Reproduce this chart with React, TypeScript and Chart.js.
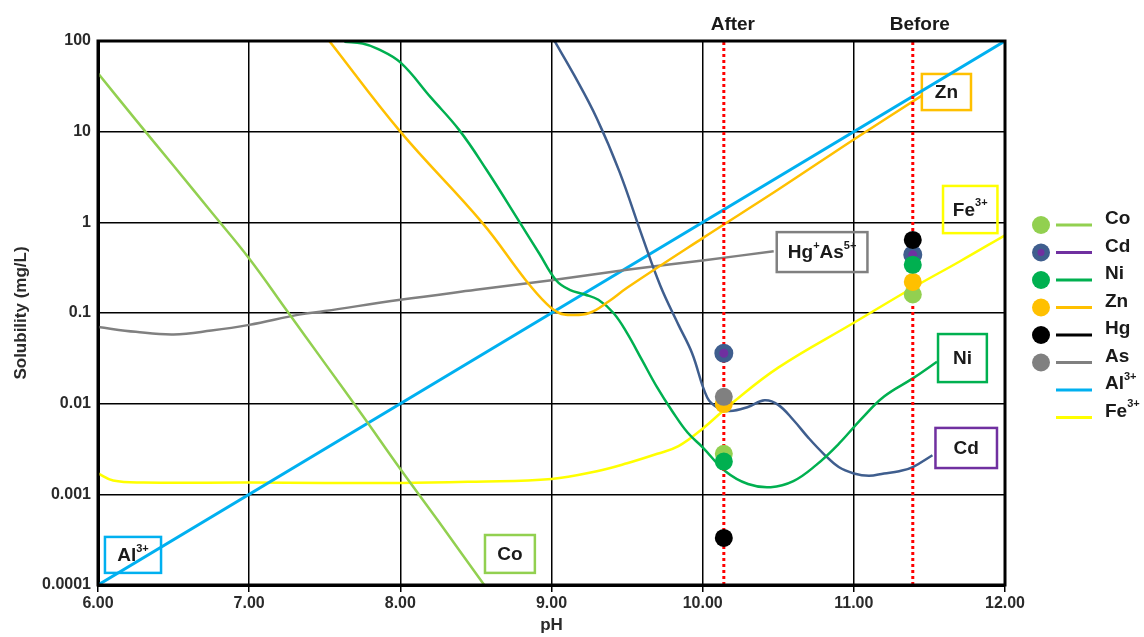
import React, { useEffect, useRef } from 'react';
import { Chart, registerables } from 'chart.js';

Chart.register(...registerables);

const FONT = '"Liberation Sans", Arial, sans-serif';

// Solubility curves (pH vs mg/L)
const coPH = [6.0, 6.25, 6.5, 6.75, 7.0, 7.25, 7.5, 7.75, 8.0, 8.25, 8.555];
const coSol = [44, 13.5, 4.2, 1.3, 0.4, 0.106, 0.028, 0.0074, 0.0019, 0.00051, 0.0001];

const znPH = [7.53, 8.0, 8.54, 8.83, 8.97, 9.05, 9.13, 9.25, 9.38, 9.5, 10.0, 10.5, 11.0, 11.45];
const znSol = [100, 10, 1.0, 0.23, 0.125, 0.1, 0.095, 0.1, 0.135, 0.19, 0.67, 2.3, 8.2, 25];

const niPH = [7.63, 7.75, 7.85, 8.0, 8.2, 8.39, 8.57, 8.79, 8.92, 9.03, 9.12, 9.22, 9.31, 9.41, 9.5, 9.6, 9.7,
  9.8, 9.9, 10.0, 10.15, 10.3, 10.45, 10.6, 10.75, 10.9, 11.05, 11.2, 11.39, 11.55];
const niSol = [98, 94, 82, 58, 24, 10.4, 3.8, 1.0, 0.45, 0.23, 0.18, 0.16, 0.14, 0.1, 0.06, 0.03, 0.015,
  0.0082, 0.0048, 0.0033, 0.0018, 0.0013, 0.0012, 0.0014, 0.0021, 0.0036, 0.0068, 0.012, 0.019, 0.029];

const cdPH = [9.02, 9.15, 9.3, 9.45, 9.6, 9.72, 9.84, 9.93, 10.03, 10.1, 10.18, 10.3, 10.41, 10.5, 10.6, 10.7,
  10.8, 10.9, 11.0, 11.1, 11.2, 11.3, 11.39, 11.52];
const cdSol = [100, 42, 14, 3.6, 0.7, 0.2, 0.074, 0.036, 0.0117, 0.009, 0.0083, 0.0092, 0.0109, 0.0097, 0.0066,
  0.0042, 0.0028, 0.002, 0.0017, 0.0016, 0.0017, 0.0018, 0.002, 0.0027];

const asPH = [6.0, 6.25, 6.5, 6.75, 7.0, 7.33, 7.5, 8.0, 8.5, 9.0, 9.5, 10.0, 10.47];
const asSol = [0.07, 0.062, 0.058, 0.064, 0.074, 0.096, 0.105, 0.14, 0.18, 0.23, 0.3, 0.38, 0.48];

const alPH = [6.0, 12.0];
const alSol = [0.0001, 100];

const fePH = [6.0, 6.1, 6.3, 7.0, 8.0, 8.5, 9.0, 9.3, 9.5, 9.7, 9.84, 10.0, 10.19, 10.5, 11.0, 11.39, 11.7, 12.0];
const feSol = [0.0017, 0.00142, 0.00135, 0.00135, 0.00133, 0.00138, 0.00148, 0.0018, 0.0022, 0.0028, 0.0034,
  0.0053, 0.01, 0.025, 0.078, 0.19, 0.37, 0.72];

// Measured solubilities at the two sampling pH values
const AFTER_PH = 10.14;
const BEFORE_PH = 11.39;
const metals = ['Co', 'Cd', 'Ni', 'Zn', 'Hg', 'As'];
const afterSol = [0.0028, 0.036, 0.0023, 0.0099, 0.00033, 0.0119];
const beforeSol = [0.16, 0.44, 0.34, 0.22, 0.64, 0.44];

// Axis ticks
const xTicks = [6, 7, 8, 9, 10, 11, 12];
const yTicks = [0.0001, 0.001, 0.01, 0.1, 1, 10, 100];
const yTickLabels = ['0.0001', '0.001', '0.01', '0.1', '1', '10', '100'];

const COLOR: Record<string, string> = {
  Co: '#92D050', Cd: '#3F5E8E', Ni: '#00B050', Zn: '#FFC000', Hg: '#000000', As: '#808080',
  Al: '#00B0F0', Fe: '#FFFF00', CdCore: '#7030A0',
};

// draw order of the dots (lower value is painted on top)
const dotOrder: Record<string, number> = { Hg: 1, Ni: 2, Cd: 3, As: 4, Zn: 5, Co: 6 };

type Part = { t: string; sup?: boolean };

const LABEL_SIZE = 19;

const callouts: { parts: Part[]; color: string; x: number[]; y: number[] }[] = [
  { parts: [{ t: 'Zn' }], color: '#FFC000', x: [11.45, 11.775], y: [43.3, 17.3] },
  { parts: [{ t: 'Fe' }, { t: '3+', sup: true }], color: '#FFFF00', x: [11.59, 11.95], y: [2.52, 0.76] },
  { parts: [{ t: 'Hg' }, { t: '+', sup: true }, { t: 'As' }, { t: '5+', sup: true }], color: '#808080', x: [10.49, 11.09], y: [0.78, 0.283] },
  { parts: [{ t: 'Ni' }], color: '#00B050', x: [11.557, 11.88], y: [0.0586, 0.0173] },
  { parts: [{ t: 'Cd' }], color: '#7030A0', x: [11.54, 11.947], y: [0.0054, 0.00195] },
  { parts: [{ t: 'Al' }, { t: '3+', sup: true }], color: '#00B0F0', x: [6.046, 6.417], y: [0.000339, 0.000136] },
  { parts: [{ t: 'Co' }], color: '#92D050', x: [8.56, 8.89], y: [0.000356, 0.000136] },
];

const legendEntries: { parts: Part[]; dot?: string; core?: string; line: string }[] = [
  { parts: [{ t: 'Co' }], dot: COLOR.Co, line: COLOR.Co },
  { parts: [{ t: 'Cd' }], dot: COLOR.Cd, core: COLOR.CdCore, line: COLOR.CdCore },
  { parts: [{ t: 'Ni' }], dot: COLOR.Ni, line: COLOR.Ni },
  { parts: [{ t: 'Zn' }], dot: COLOR.Zn, line: COLOR.Zn },
  { parts: [{ t: 'Hg' }], dot: COLOR.Hg, line: COLOR.Hg },
  { parts: [{ t: 'As' }], dot: COLOR.As, line: COLOR.As },
  { parts: [{ t: 'Al' }, { t: '3+', sup: true }], line: COLOR.Al },
  { parts: [{ t: 'Fe' }, { t: '3+', sup: true }], line: COLOR.Fe },
];

const zip = (xs: number[], ys: number[]) => xs.map((x, i) => ({ x, y: ys[i] }));

function drawRich(ctx: CanvasRenderingContext2D, parts: Part[], x: number, y: number, size: number, align: 'left' | 'center') {
  const base = `bold ${size}px ${FONT}`;
  const small = `bold ${Math.round(size * 0.58)}px ${FONT}`;
  ctx.textBaseline = 'middle';
  ctx.textAlign = 'left';
  const widths = parts.map((p) => {
    ctx.font = p.sup ? small : base;
    return ctx.measureText(p.t).width;
  });
  const total = widths.reduce((a, b) => a + b, 0);
  let cx = align === 'center' ? x - total / 2 : x;
  parts.forEach((p, i) => {
    ctx.font = p.sup ? small : base;
    ctx.fillText(p.t, cx, p.sup ? y - size * 0.38 : y);
    cx += widths[i];
  });
}

const curve = (label: string, xs: number[], ys: number[], color: string, width = 2.5) => ({
  type: 'line' as const,
  label,
  data: zip(xs, ys),
  borderColor: color,
  borderWidth: width,
  pointRadius: 0,
  fill: false,
  tension: 0.4,
  order: 20,
});

const marker = (pH: number) => ({
  type: 'line' as const,
  label: '',
  data: [{ x: pH, y: 0.0001 }, { x: pH, y: 100 }],
  borderColor: '#FF0000',
  borderWidth: 3,
  borderDash: [3, 3],
  pointRadius: 0,
  tension: 0,
  order: 10,
});

const dots = metals.map((m, i) => ({
  type: 'scatter' as const,
  label: m,
  data: [{ x: AFTER_PH, y: afterSol[i] }, { x: BEFORE_PH, y: beforeSol[i] }],
  pointRadius: m === 'Cd' ? 7 : 9,
  pointBorderWidth: m === 'Cd' ? 5 : 0,
  pointBorderColor: COLOR[m],
  pointBackgroundColor: m === 'Cd' ? COLOR.CdCore : COLOR[m],
  order: dotOrder[m],
}));

const annotate = {
  id: 'annotate',
  beforeDatasetsDraw(chart: any) {
    const { ctx, scales } = chart;
    const x = scales.x, y = scales.y;
    ctx.save();
    for (const c of callouts) {
      const l = x.getPixelForValue(c.x[0]);
      const r = x.getPixelForValue(c.x[1]);
      const t = y.getPixelForValue(c.y[0]);
      const b = y.getPixelForValue(c.y[1]);
      ctx.strokeStyle = c.color;
      ctx.lineWidth = 2.5;
      ctx.strokeRect(l, t, r - l, b - t);
      ctx.fillStyle = '#1a1a1a';
      drawRich(ctx, c.parts, (l + r) / 2, (t + b) / 2 + 1, LABEL_SIZE, 'center');
    }
    ctx.restore();
  },
  afterDraw(chart: any) {
    const { ctx, chartArea: a, scales } = chart;
    const x = scales.x;
    ctx.save();
    ctx.strokeStyle = '#000';
    ctx.lineWidth = 3;
    ctx.strokeRect(a.left, a.top, a.right - a.left, a.bottom - a.top);

    ctx.fillStyle = '#1a1a1a';
    drawRich(ctx, [{ t: 'After' }], x.getPixelForValue(AFTER_PH) + 9, 25, LABEL_SIZE, 'center');
    drawRich(ctx, [{ t: 'Before' }], x.getPixelForValue(BEFORE_PH) + 7, 25, LABEL_SIZE, 'center');

    legendEntries.forEach((e, i) => {
      const ly = 225 + i * 27.5;
      const cx = a.right + 36;
      if (e.dot) {
        ctx.beginPath();
        ctx.arc(cx, ly, 9, 0, Math.PI * 2);
        ctx.fillStyle = e.dot;
        ctx.fill();
        if (e.core) {
          ctx.beginPath();
          ctx.arc(cx, ly, 3.5, 0, Math.PI * 2);
          ctx.fillStyle = e.core;
          ctx.fill();
        }
      }
      ctx.strokeStyle = e.line;
      ctx.lineWidth = 3;
      ctx.beginPath();
      ctx.moveTo(a.right + 51, ly);
      ctx.lineTo(a.right + 87, ly);
      ctx.stroke();
      ctx.fillStyle = '#1a1a1a';
      drawRich(ctx, e.parts, a.right + 100, ly - 6, LABEL_SIZE, 'left');
    });
    ctx.restore();
  },
};

export default function App() {
  const ref = useRef<HTMLCanvasElement>(null);
  useEffect(() => {
    if (!ref.current) return;
    const chart = new Chart(ref.current, {
      data: {
        datasets: [
          curve('Co', coPH, coSol, COLOR.Co),
          curve('Zn', znPH, znSol, COLOR.Zn),
          curve('Ni', niPH, niSol, COLOR.Ni),
          curve('Cd', cdPH, cdSol, COLOR.Cd),
          curve('As', asPH, asSol, COLOR.As),
          curve('Al', alPH, alSol, COLOR.Al, 3),
          curve('Fe', fePH, feSol, COLOR.Fe),
          marker(AFTER_PH),
          marker(BEFORE_PH),
          ...dots,
        ] as any,
      },
      options: {
        animation: false,
        responsive: true,
        maintainAspectRatio: false,
        events: [],
        layout: { padding: { top: 41, right: 139, left: 0, bottom: 0 } },
        plugins: { legend: { display: false }, tooltip: { enabled: false } },
        scales: {
          x: {
            type: 'linear',
            min: 6,
            max: 12,
            afterBuildTicks: (s: any) => { s.ticks = xTicks.map((v) => ({ value: v })); },
            afterFit: (s: any) => { s.height = 52; },
            ticks: {
              callback: (v: any) => Number(v).toFixed(2),
              font: { family: FONT, size: 16, weight: 'bold' },
              color: '#2a2a2a',
              padding: 2,
              maxRotation: 0,
            },
            grid: { color: '#000', lineWidth: 1.5, tickLength: 7, drawTicks: true },
            border: { display: true, color: '#000', width: 3 },
            title: {
              display: true,
              text: 'pH',
              font: { family: FONT, size: 17, weight: 'bold' },
              color: '#2a2a2a',
              padding: { top: 0, bottom: 1 },
            },
          },
          y: {
            type: 'logarithmic',
            min: 0.0001,
            max: 100,
            afterBuildTicks: (s: any) => { s.ticks = yTicks.map((v) => ({ value: v })); },
            afterFit: (s: any) => { s.width = 98; },
            ticks: {
              callback: (v: any) => {
                const i = yTicks.findIndex((t) => Math.abs(Math.log10(t) - Math.log10(Number(v))) < 1e-6);
                return i >= 0 ? yTickLabels[i] : '';
              },
              font: { family: FONT, size: 16, weight: 'bold' },
              color: '#2a2a2a',
              padding: 7,
            },
            grid: { color: '#000', lineWidth: 1.5, drawTicks: false },
            border: { display: true, color: '#000', width: 3 },
            title: {
              display: true,
              text: 'Solubility (mg/L)',
              font: { family: FONT, size: 17, weight: 'bold' },
              color: '#2a2a2a',
              padding: { top: 11, bottom: 0 },
            },
          },
        },
      },
      plugins: [annotate],
    } as any);
    return () => chart.destroy();
  }, []);

  return (
    <div style={{ position: 'fixed', left: 0, top: 0, width: 1144, height: 637, background: '#fff' }}>
      <canvas ref={ref} />
    </div>
  );
}
